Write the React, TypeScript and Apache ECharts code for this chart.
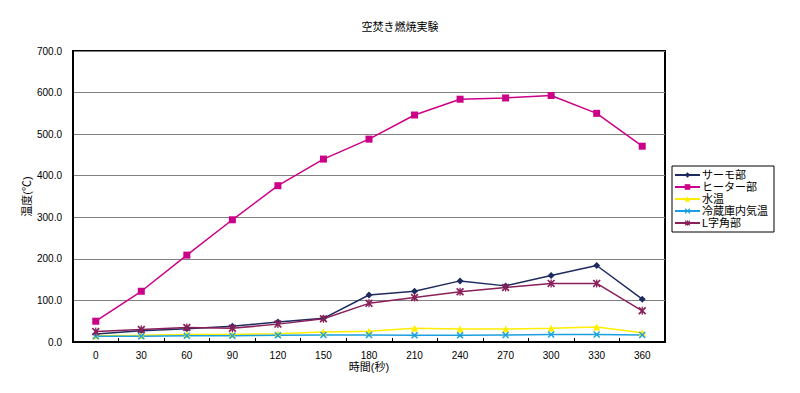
import React, { useEffect, useRef } from "react";
import * as echarts from "echarts";

const categories = ["0", "30", "60", "90", "120", "150", "180", "210", "240", "270", "300", "330", "360"];
const thermo = [19, 27, 32, 38, 48, 57, 113, 122, 147, 135, 160, 184, 103];
const heater = [50, 122, 209, 294, 376, 440, 488, 546, 584, 587, 593, 550, 471];
const water = [15, 16, 18, 18, 20, 24, 26, 33, 31, 31, 33, 36, 22];
const fridge = [14, 14, 15, 15, 16, 17, 17, 16, 16, 17, 18, 18, 17];
const lcorner = [25, 30, 35, 33, 43, 56, 93, 107, 121, 131, 141, 141, 75];
const seriesNames = ["サーモ部", "ヒーター部", "水温", "冷蔵庫内気温", "L字角部"];

const FONT = "'Liberation Sans', 'Noto Sans CJK JP', sans-serif";
const X_PATH = "path://M0,1.5L1.5,0L5,3.5L8.5,0L10,1.5L6.5,5L10,8.5L8.5,10L5,6.5L1.5,10L0,8.5L3.5,5Z";
const STAR_PATH = X_PATH + "M4.2,0L5.8,0L5.8,10L4.2,10Z";

export default function App() {
  const ref = useRef<HTMLDivElement>(null);
  useEffect(() => {
    if (!ref.current) return;
    const chart = echarts.init(ref.current, undefined, { renderer: "svg" });
    const mk = (name: string, data: number[], color: string, symbol: string, size: number) => ({
      name,
      type: "line",
      data,
      symbol,
      symbolSize: size,
      lineStyle: { color, width: 1.5 },
      itemStyle: { color },
      emphasis: { disabled: true },
    });
    chart.setOption({
      animation: false,
      backgroundColor: "#fff",
      textStyle: { fontFamily: FONT },
      title: {
        text: "空焚き燃焼実験",
        left: "center",
        top: 16,
        textStyle: { fontSize: 11, fontWeight: "normal", color: "#000", fontFamily: FONT },
      },
      legend: {
        orient: "vertical",
        left: 672,
        top: 166,
        itemWidth: 25,
        itemHeight: 7,
        itemGap: 0,
        padding: [3, 6, 3, 2],
        borderColor: "#000",
        borderWidth: 1,
        data: seriesNames,
        textStyle: { fontSize: 11, color: "#000", lineHeight: 12, fontFamily: FONT, padding: [0, 0, 0, -3] },
      },
      grid: {
        left: 73,
        right: 135,
        top: 51,
        bottom: 51,
        show: true,
        borderColor: "#000",
        borderWidth: 2,
        containLabel: false,
      },
      xAxis: {
        type: "category",
        data: categories,
        boundaryGap: true,
        name: "時間(秒)",
        nameLocation: "middle",
        nameGap: 19,
        nameMoveOverlap: false,
        nameTextStyle: { fontSize: 11, color: "#000", fontFamily: FONT },
        axisLine: { lineStyle: { color: "#000", width: 2 } },
        axisTick: { show: true, inside: true, length: 4, interval: 0, lineStyle: { color: "#000" } },
        axisLabel: { fontSize: 10, color: "#000", margin: 8, interval: 0, fontFamily: FONT },
        splitLine: { show: false },
      },
      yAxis: {
        type: "value",
        min: 0,
        max: 700,
        interval: 100,
        name: "温度(℃)",
        nameLocation: "middle",
        nameGap: 41,
        nameMoveOverlap: false,
        nameTextStyle: { fontSize: 11, color: "#000", fontFamily: FONT },
        axisLine: { show: true, lineStyle: { color: "#000", width: 2 } },
        axisTick: { show: false },
        axisLabel: { fontSize: 10, color: "#000", margin: 11, formatter: (v: number) => v.toFixed(1), fontFamily: FONT },
        splitLine: { show: true, lineStyle: { color: "#808080", width: 1 } },
      },
      series: [
        mk(seriesNames[0], thermo, "#1F2A5E", "diamond", 7),
        mk(seriesNames[1], heater, "#CC0088", "rect", 7),
        mk(seriesNames[2], water, "#FFEE00", "triangle", 7),
        mk(seriesNames[3], fridge, "#1AA0E0", X_PATH, 7),
        mk(seriesNames[4], lcorner, "#8A1F5A", STAR_PATH, 8),
      ],
    });
    return () => chart.dispose();
  }, []);
  return <div ref={ref} style={{ width: 800, height: 393, position: "absolute", left: 0, top: 0 }} />;
}
